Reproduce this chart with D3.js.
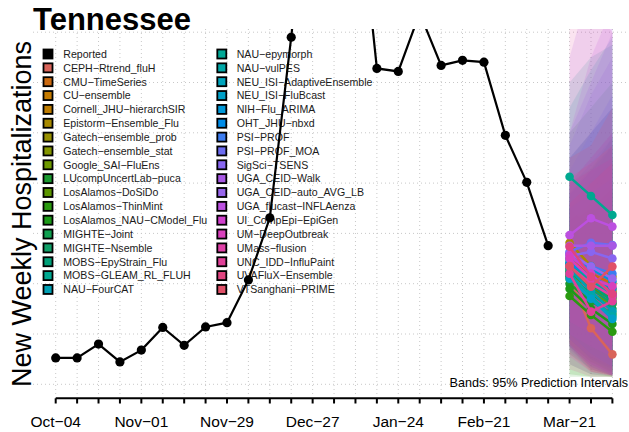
<!DOCTYPE html>
<html><head><meta charset="utf-8">
<script src="https://cdn.jsdelivr.net/npm/d3@7"></script>
<style>
body{margin:0;background:#fff}
svg{display:block}
text{font-family:"Liberation Sans",Arial,Helvetica,sans-serif}
</style>
</head><body>
<svg id="chart" width="629" height="432"></svg>
<script>
// ---------------- data ----------------
const reportedDates = ["2025-10-04","2025-10-11","2025-10-18","2025-10-25","2025-11-01","2025-11-08","2025-11-15","2025-11-22","2025-11-29","2025-12-06","2025-12-13","2025-12-20","2025-12-27","2026-01-03","2026-01-10","2026-01-17","2026-01-24","2026-01-31","2026-02-07","2026-02-14","2026-02-21","2026-02-28","2026-03-07","2026-03-14"];
const reportedValues = [105,105,160,89,136,226,155,228,245,415,662,1380,2200,2400,2070,1256,1244,1476,1268,1288,1281,990,803,551];

const forecastDates = ["2026-03-21","2026-03-28","2026-04-04"];

const models = ["CEPH-Rtrend_fluH","CMU-TimeSeries","CU-ensemble","Cornell_JHU-hierarchSIR","Epistorm-Ensemble_Flu","Gatech-ensemble_prob","Gatech-ensemble_stat","Google_SAI-FluEns","LUcompUncertLab-puca","LosAlamos-DoSiDo","LosAlamos-ThinMint","LosAlamos_NAU-CModel_Flu","MIGHTE-Joint","MIGHTE-Nsemble","MOBS-EpyStrain_Flu","MOBS-GLEAM_RL_FLUH","NAU-FourCAT","NAU-epymorph","NAU-vulPES","NEU_ISI-AdaptiveEnsemble","NEU_ISI-FluBcast","NIH-Flu_ARIMA","OHT_JHU-nbxd","PSI-PROF","PSI-PROF_MOA","SigSci-TSENS","UGA_CEID-Walk","UGA_CEID-auto_AVG_LB","UGA_flucast-INFLAenza","UI_CompEpi-EpiGen","UM-DeepOutbreak","UMass-flusion","UNC_IDD-InfluPaint","UVAFluX-Ensemble","VTSanghani-PRIME"];

const modelColors = ["#D9645A","#CC6A10","#C47A00","#BE7C00","#A88A00","#989000","#849600","#6E9A00","#1A9A30","#5C9600","#2A9A10","#1C9A18","#10A050","#10A068","#00A078","#00A890","#00A0B4","#00A896","#00A8A8","#00A4BC","#00A0C8","#0098D8","#008CE8","#3C7CF0","#6C6CF0","#8866F0","#A858E4","#9866EC","#BC50E0","#D040CC","#D840BC","#E040A8","#E04098","#E04480","#E05068"];

const medians = [
 [430,223,119],[500,440,400],[460,400,360],[480,420,380],[563,470,428],
 [470,410,370],[450,390,350],[420,360,320],[400,330,280],[440,380,340],
 [351,276,209],[380,300,240],[430,360,300],[450,380,320],[470,400,330],
 [825,749,673],[460,370,290],[480,410,350],[440,350,270],[490,420,360],
 [420,340,260],[520,460,410],[480,430,380],[500,470,440],[527,563,554],
 [510,527,500],[551,551,551],[520,468,420],[593,660,627],[514,440,355],
 [500,420,390],[470,400,350],[440,289,330],[547,428,360],[470,388,468]
];
const lower95 = [
 [150,50,30],[200,120,70],[180,100,60],[160,90,50],[220,130,80],
 [190,110,70],[180,100,60],[160,90,50],[80,40,30],[150,80,45],
 [40,30,30],[30,30,30],[150,80,40],[160,90,45],[180,100,50],
 [400,280,180],[150,70,35],[120,60,35],[130,60,35],[200,120,70],
 [140,70,35],[200,120,70],[180,100,60],[180,110,70],[200,150,110],
 [150,80,40],[80,40,35],[160,80,40],[250,200,150],[150,70,35],
 [110,50,35],[140,60,35],[60,30,30],[160,60,35],[120,50,35]
];
const upper95 = [
 [700,620,560],[720,800,880],[650,720,800],[760,860,980],[800,860,950],
 [640,700,780],[620,680,760],[600,680,760],[900,1000,1100],[700,780,880],
 [800,850,900],[1000,1100,1200],[720,820,950],[750,850,980],[700,800,900],
 [1200,1300,1350],[800,900,1000],[1100,1250,1380],[900,1000,1100],[720,780,860],
 [700,760,820],[780,880,980],[760,850,950],[850,1000,1150],[950,1150,1300],
 [1000,1200,1400],[1300,1600,1800],[900,1000,1100],[1000,1300,1500],[800,850,900],
 [800,900,1000],[720,800,880],[1600,1500,1400],[820,880,950],[900,950,1100]
];

const yGridValues = [0,200,400,600,800,1000,1200,1400];
const titleText = "Tennessee";
const yLabelText = "New Weekly Hospitalizations";
const noteText = "Bands: 95% Prediction Intervals";

// ---------------- drawing ----------------
const parse = d3.utcParse("%Y-%m-%d");
const svg = d3.select("#chart");
const W = 629, H = 432;

const x = d3.scaleUtc()
  .domain([parse("2025-10-04"), parse("2026-04-04")])
  .range([55.7, 612.4]);
const y = d3.scaleLinear().domain([0, 1400]).range([384.3, 32.2]);

const plotTop = 29, plotBottom = 398, plotLeft = 33, plotRight = 635;

svg.append("defs").append("clipPath").attr("id","clip")
  .append("rect").attr("x",plotLeft).attr("y",plotTop)
  .attr("width",plotRight-plotLeft).attr("height",plotBottom-plotTop);

const weeksAll = d3.utcDay.range(parse("2025-10-04"), d3.utcDay.offset(parse("2026-04-04"),1), 7);

// grid
const grid = svg.append("g").attr("stroke","#c8c8c8").attr("stroke-width",1).attr("stroke-dasharray","1,3");
grid.selectAll("line.v").data(weeksAll).join("line")
  .attr("x1",d=>x(d)).attr("x2",d=>x(d)).attr("y1",plotTop).attr("y2",plotBottom-2);
grid.selectAll("line.h").data(yGridValues).join("line")
  .attr("x1",plotLeft).attr("x2",W).attr("y1",d=>y(d)).attr("y2",d=>y(d));

// title
svg.append("text").attr("x",33).attr("y",30).attr("font-size",31).attr("font-weight","bold")
  .attr("fill","#000").text(titleText);

// y label
svg.append("text").attr("transform","translate(31,214) rotate(-90)")
  .attr("text-anchor","middle").attr("font-size",27).attr("fill","#000").text(yLabelText);

// legend
const legendNames = ["Reported"].concat(models);
const legendColors = ["#000000"].concat(modelColors);
const rowsPerCol = 18;
const leg = svg.append("g");
legendNames.forEach((name,i)=>{
  const col = Math.floor(i/rowsPerCol), row = i%rowsPerCol;
  const bx = col===0 ? 43.5 : 217.3;
  const tx = col===0 ? 63.3 : 236.7;
  const cy = 54 + row*13.85;
  leg.append("rect").attr("x",bx).attr("y",cy-4.5).attr("width",9).attr("height",9)
    .attr("fill",legendColors[i]).attr("stroke","#000").attr("stroke-width",1.8);
  leg.append("text").attr("x",tx).attr("y",cy+3.8).attr("font-size",10.6).attr("fill","#1a1a1a")
    .text(name.replace(/-/g,"\u2212"));
});

// x axis
const ax = svg.append("g");
ax.append("line").attr("x1",x(weeksAll[0])).attr("x2",x(weeksAll[weeksAll.length-1]))
  .attr("y1",398.3).attr("y2",398.3).attr("stroke","#000").attr("stroke-width",2);
ax.selectAll("line.t").data(weeksAll).join("line")
  .attr("x1",d=>x(d)).attr("x2",d=>x(d)).attr("y1",398.3).attr("y2",403.5)
  .attr("stroke","#000").attr("stroke-width",2);
const fmt = d3.utcFormat("%b-%d");
ax.selectAll("text").data(weeksAll.filter((d,i)=>i%4===0)).join("text")
  .attr("x",d=>x(d)).attr("y",426.5).attr("text-anchor","middle").attr("font-size",15.5)
  .attr("fill","#000").text(d=>fmt(d).replace("-","\u2212"));

const plot = svg.append("g").attr("clip-path","url(#clip)");
const fd = forecastDates.map(parse);

// bands
const area = d3.area().x(d=>x(d.date)).y0(d=>y(d.lo)).y1(d=>y(d.hi));
models.forEach((m,i)=>{
  const pts = fd.map((d,k)=>({date:d, lo:lower95[i][k], hi:upper95[i][k]}));
  plot.append("path").attr("d",area(pts)).attr("fill",modelColors[i]).attr("fill-opacity",0.14).attr("stroke","none");
});

// median lines
const line = d3.line().x(d=>x(d.date)).y(d=>y(d.v));
models.forEach((m,i)=>{
  const pts = fd.map((d,k)=>({date:d, v:medians[i][k]}));
  const g = plot.append("g");
  g.append("path").attr("d",line(pts)).attr("fill","none").attr("stroke",modelColors[i]).attr("stroke-width",2.5);
  g.selectAll("circle").data(pts).join("circle").attr("cx",d=>x(d.date)).attr("cy",d=>y(d.v))
    .attr("r",4.3).attr("fill",modelColors[i]);
});

// reported
const rep = reportedDates.map((d,i)=>({date:parse(d), v:reportedValues[i]}));
plot.append("path").attr("d",line(rep)).attr("fill","none").attr("stroke","#000").attr("stroke-width",2.2);
plot.selectAll("circle.r").data(rep).join("circle").attr("cx",d=>x(d.date)).attr("cy",d=>y(d.v))
  .attr("r",4.6).attr("fill","#000");

// note
svg.append("text").attr("x",628).attr("y",386.5).attr("text-anchor","end").attr("font-size",12.6)
  .attr("fill","#000").text(noteText);
</script>
</body></html>
